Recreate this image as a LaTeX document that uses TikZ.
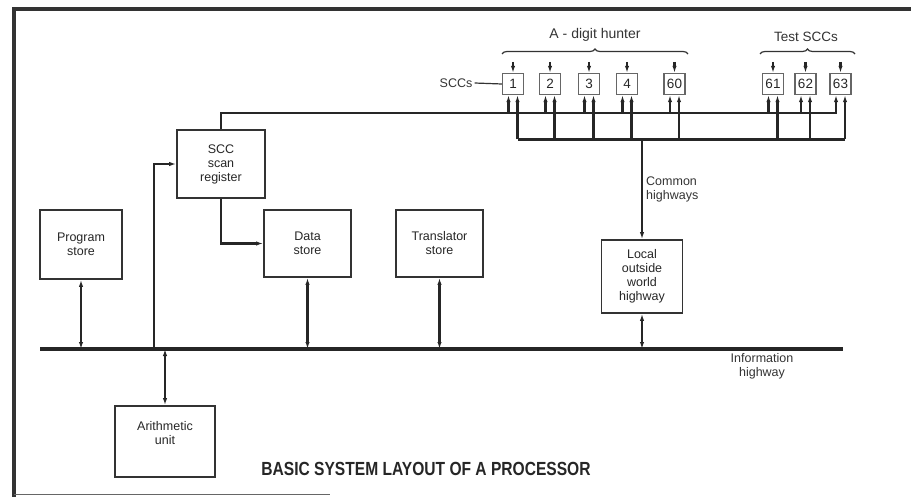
\documentclass[tikz,border=0pt]{standalone}
\usepackage{fontspec}
\setmainfont{Liberation Sans}
\usetikzlibrary{arrows.meta,decorations.pathreplacing,calc}
\begin{document}
\begin{tikzpicture}[x=1pt,y=-1pt,
  box/.style={draw=black!80, line width=1.7pt, align=center, inner sep=0pt,
    font=\fontsize{12.5}{14}\selectfont, text=black!85},
  scc/.style={draw=black!60, line width=1.3pt, minimum width=21pt, minimum height=21pt,
    inner sep=0pt, font=\fontsize{13.5}{14}\selectfont, text=black!85},
  conn/.style={line width=2.1pt, draw=black!85},
  arr/.style={conn, -{Latex[length=7pt,width=4.4pt]}},
  darr/.style={conn, {Latex[length=7pt,width=4.4pt]}-{Latex[length=7pt,width=4.4pt]}},
  lbl/.style={align=center, inner sep=0pt, text=black!80, font=\fontsize{12.5}{14}\selectfont},
  bracestyle/.style={draw=black!80, line width=1.2pt, decorate, decoration={brace, amplitude=5pt}}
]
\useasboundingbox (0,0) rectangle (911,497);

% frame
\draw[line width=3.5pt, black!80] (14,497) -- (14,9) -- (911,9);
\draw[line width=1.5pt, black!60] (14,494.5) -- (330,494.5);

% main boxes
\node[box, minimum width=82pt, minimum height=69pt] (prog) at (81,244.5) {Program\\store};
\node[box, minimum width=88pt, minimum height=68pt] (reg) at (221,164) {SCC\\scan\\register};
\node[box, minimum width=87pt, minimum height=67pt] (data) at (307.5,243.5) {Data\\store};
\node[box, minimum width=87pt, minimum height=67pt] (trans) at (439.5,243.5) {Translator\\store};
\node[box, minimum width=81pt, minimum height=73pt] (local) at (642,276.5) {Local\\outside\\world\\highway};
\node[box, minimum width=100pt, minimum height=71pt] (arith) at (165,441.5) {Arithmetic\\unit\\[3pt]};

% SCC boxes
\foreach \n/\x in {1/513,2/550,3/589,4/627,60/674.5,61/773,62/805.5,63/840.5}
  \node[scc] (s\n) at (\x,84) {\n};

% information highway
\coordinate (hwL) at (40,349);
\coordinate (hwR) at (843,349);
\draw[line width=3.2pt, black!85] (hwL) -- (hwR);
\node[lbl] (infolbl) at (762,366) {Information\\highway};

% connections to highway
\draw[darr] (prog.south) -- (prog.south |- hwL);
\draw[darr] (data.south) -- (data.south |- hwL);
\draw[darr] (trans.south) -- (trans.south |- hwL);
\draw[darr] (local.south) -- (local.south |- hwL);
\draw[darr] (arith.north) -- (arith.north |- hwL);
\coordinate (hwA) at (154,349);
\draw[arr] (hwA) |- (reg.west);
\draw[arr] (reg.south) |- (data.west);

% upper SCC line
\coordinate (hub) at (600,113);
\draw[arr] (reg.north) |- (hub) -| ($(s63.south)+(-4.5,0)$);
\foreach \n in {1,2,3,4,60,61,62}
  \draw[arr] ($(s\n.south |- hub)+(-4.5,0)$) -- ($(s\n.south)+(-4.5,0)$);

% lower SCC line (common highways)
\coordinate (lo) at (642,139.5);
\draw[conn] ($(s1.south |- lo)+(4.5,0)$) -- ($(s63.south |- lo)+(4.5,0)$);
\foreach \n in {1,2,3,4,60,61,62,63}
  \draw[arr] ($(s\n.south |- lo)+(4.5,0)$) -- ($(s\n.south)+(4.5,0)$);
\draw[arr] (lo) -- (local.north);
\node[lbl, anchor=north west, align=left] (comlbl) at (646,177) {Common\\highways};

% top arrows into SCC boxes
\foreach \n in {1,2,3,4,60,61,62,63}
  \draw[arr] ($(s\n.north)+(0,-11)$) -- (s\n.north);

% SCCs label
\node[lbl] (sccl) at (456,83) {SCCs};
\draw[line width=1.2pt, black!80] (sccl.east) ++(2,0) -- (s1.west);

% braces
\draw[bracestyle] (502,54) -- (688,54);
\node[lbl, font=\fontsize{14}{16}\selectfont] (adh) at (595,35) {A - digit hunter};
\draw[bracestyle] (760,54) -- (855,54);
\node[lbl, font=\fontsize{13.5}{16}\selectfont] (tst) at (806,37) {Test SCCs};

% title
\node[inner sep=0pt, xscale=0.82, font=\bfseries\fontsize{19}{20}\selectfont, text=black!85] (title) at (426,469) {BASIC SYSTEM LAYOUT OF A PROCESSOR};
\end{tikzpicture}
\end{document}
